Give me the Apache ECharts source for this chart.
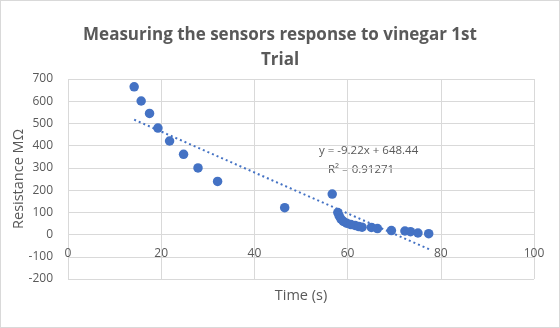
<!DOCTYPE html>
<html lang="en">
<head>
    <meta charset="utf-8">
    <title>vinegar trial</title>
    <script src="https://cdn.jsdelivr.net/npm/echarts@6/dist/echarts.min.js"></script>
    <style>
        html, body { margin: 0; padding: 0; background: #fff; }
        #box { width: 560px; height: 328px; box-sizing: border-box; border: 1px solid #d9d9d9; }
    </style>
</head>
<body>
<div id="box"></div>
<script>
    // readings, time (s) and resistance
    var timeSec = [14.2, 15.7, 17.5, 19.3, 21.8, 24.8, 27.9, 32.1, 46.5, 56.7,
        57.9, 58.2, 58.6, 59.1, 59.8, 60.7, 61.6, 62.4, 63.1, 65.1,
        66.4, 69.4, 72.3, 73.5, 75.1, 77.4];
    var resistance = [665, 601, 545, 479, 421, 361, 300, 239, 121, 182,
        99, 84, 69, 59, 51, 45, 41, 36, 33, 32,
        27, 18, 16, 13, 7, 4];

    // linear trendline ends
    var trendX = [14.2, 77.6];
    var trendY = [517, -67];
    var trendText = ['y = -9.22x + 648.44', 'R\u00b2 = 0.91271'];

    var pts = timeSec.map(function (t, i) { return [t, resistance[i]]; });
    var trendPts = trendX.map(function (t, i) { return [t, trendY[i]]; });

    var txtColor = '#595959';
    var gridColor = '#d9d9d9';
    var font = 'Open Sans';

    var myChart = echarts.init(document.getElementById('box'));
    var option = {
        animation: false,
        title: {
            text: 'Measuring the sensors response to vinegar 1st\nTrial',
            left: 'center',
            top: 17,
            textStyle: { fontFamily: font, fontSize: 17, fontWeight: 'bold', color: txtColor, lineHeight: 25 }
        },
        grid: { left: 67, right: 25, top: 78, bottom: 48, outerBoundsMode: 'none' },
        xAxis: {
            type: 'value',
            min: 0, max: 100, interval: 20,
            name: 'Time (s)',
            nameLocation: 'middle',
            nameGap: 9,
            nameMoveOverlap: false,
            nameTextStyle: { fontFamily: font, fontSize: 14.5, color: txtColor },
            axisLine: { show: false },
            axisTick: { show: false },
            axisLabel: { fontFamily: font, fontSize: 12, color: txtColor, margin: -31, showMaxLabel: true, showMinLabel: true },
            splitLine: { lineStyle: { color: gridColor, width: 1 } }
        },
        yAxis: {
            type: 'value',
            min: -200, max: 700, interval: 100,
            name: 'Resistance M\u03a9',
            nameLocation: 'middle',
            nameGap: 42,
            nameMoveOverlap: false,
            nameTextStyle: { fontFamily: font, fontSize: 14.5, color: txtColor },
            axisLine: { show: false },
            axisTick: { show: false },
            axisLabel: { fontFamily: font, fontSize: 12, color: txtColor, margin: 15 },
            splitLine: { lineStyle: { color: gridColor, width: 1 } }
        },
        graphic: [
            {
                type: 'text', left: 318, top: 144,
                style: { text: trendText[0], fontFamily: font, fontSize: 11.5, fill: txtColor, letterSpacing: -0.5 }
            },
            {
                type: 'text', left: 327, top: 163,
                style: { text: trendText[1], fontFamily: font, fontSize: 11.5, fill: txtColor, letterSpacing: -0.1 }
            }
        ],
        series: [
            {
                type: 'scatter',
                data: pts,
                symbolSize: 9.5,
                itemStyle: { color: '#4472c4', opacity: 1 },
                z: 3
            },
            {
                type: 'line',
                data: trendPts,
                symbol: 'none',
                lineStyle: { color: '#4472c4', width: 2, type: [2, 3] },
                z: 4
            }
        ]
    };
    myChart.setOption(option);
</script>
</body>
</html>
